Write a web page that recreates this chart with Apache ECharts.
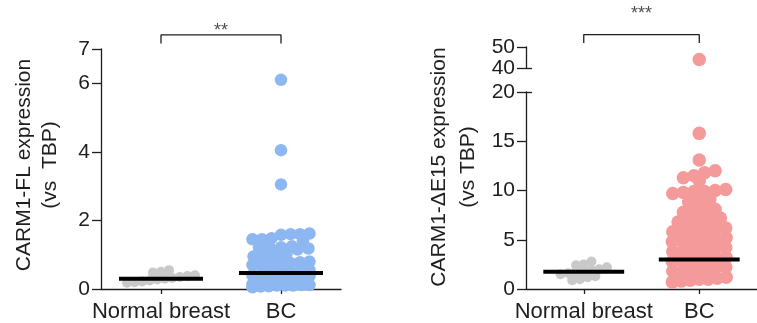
<!DOCTYPE html>
<html><head><meta charset="utf-8">
<script src="https://cdn.jsdelivr.net/npm/echarts@6/dist/echarts.min.js"></script>
<style>html,body{margin:0;padding:0;background:#fff}#c{width:757px;height:323px}</style>
</head><body><div id="c"></div>
<script>
// ---- data ----
const categories = ['Normal breast', 'BC'];
const flNormal = [0.55, 0.5, 0.48, 0.4, 0.38, 0.35, 0.32, 0.3, 0.28, 0.25, 0.22, 0.2, 0.18];
const flBC = [6.1, 4.05, 3.05,
  1.62, 1.6, 1.6, 1.58, 1.48, 1.45, 1.45, 1.42,
  1.25, 1.2, 1.2, 1.18, 1.15, 1.22, 1.0, 0.98, 1.02, 0.95,
  0.8, 0.78, 0.75, 0.72, 0.7, 0.76, 0.74, 0.55, 0.52, 0.5, 0.5, 0.48, 0.47,
  0.4, 0.38, 0.35, 0.33, 0.3, 0.3, 0.28, 0.26, 0.25, 0.3, 0.32, 0.36,
  0.2, 0.18, 0.16, 0.15, 0.14, 0.12, 0.1, 0.1, 0.08, 0.07, 0.05, 0.12, 0.1];
const flMedians = [0.3, 0.47];
const e15Normal = [2.8, 2.5, 2.4, 2.2, 2.0, 1.9, 1.8, 1.7, 1.6, 1.5, 1.3, 1.2, 1.0, 0.9];
const e15BC = [44, 15.8, 13.1, 12.0, 11.8, 11.3, 11.0, 11.5,
  10.0, 9.9, 9.8, 10.1, 9.7, 9.9, 9.0, 8.8, 9.1, 8.0, 7.9, 8.1, 7.8,
  7.0, 7.2, 6.8, 7.1, 6.9, 6.0, 6.1, 5.9, 6.2, 5.8, 6.0,
  5.0, 5.1, 4.9, 5.2, 4.8, 5.0, 5.1, 4.0, 4.1, 3.9, 4.2, 3.8, 4.0,
  3.0, 3.1, 2.9, 3.2, 2.8, 3.0, 3.1, 2.0, 2.1, 1.9, 2.2, 1.8, 2.0,
  1.0, 1.1, 0.9, 1.2, 0.8, 1.0, 0.7];
const e15Medians = [1.75, 3.0];
const flTicks = [0, 2, 4, 6, 7];
const e15LowTicks = [0, 5, 10, 15, 20];
const e15HighTicks = [40, 50];
const sigFL = '**';
const sigE15 = '***';

// ---- layout ----
const FONT = '"Liberation Sans", Arial, sans-serif';
const INK = '#1e1e1e';
const colGray = '#c9c9c9', colBlue = '#8db7f1', colPink = '#f59a9a';
const PX_PER_X = 120; // px per x unit (grid width 240 / range 2)

function swarm(values, center, pxPerUnit, rowPx, colPx, maxSpan) {
  const rows = {};
  values.forEach(v => {
    const r = Math.round(v * pxPerUnit / rowPx);
    (rows[r] = rows[r] || []).push(v);
  });
  const out = [];
  Object.keys(rows).forEach(k => {
    const arr = rows[k].slice().sort((a, b) => a - b);
    const n = arr.length;
    const sp = n > 1 ? Math.min(colPx, maxSpan / (n - 1)) : 0;
    arr.forEach((v, i) => out.push([center + ((i - (n - 1) / 2) * sp) / PX_PER_X, v]));
  });
  return out;
}

const fl_pxu = 240 / 7;
const e15_pxu = 197 / 20;
const e15Hi_pxu = 21 / 10;

const flNormalPts = swarm(flNormal, 1, fl_pxu, 10, 8, 68);
const flBCPts = swarm(flBC, 2, fl_pxu, 9, 11, 57);
const e15NormalPts = swarm(e15Normal, 1, e15_pxu, 9, 8, 68);
const e15BCLow = swarm(e15BC.filter(v => v <= 20), 2, e15_pxu, 9.5, 11, 56);
const e15BCHigh = swarm(e15BC.filter(v => v > 20), 2, e15Hi_pxu, 10, 11, 56);

function medianLine(c, m, xi, yi) {
  return { type: 'line', xAxisIndex: xi, yAxisIndex: yi, data: [[c - 0.35, m], [c + 0.35, m]],
    symbol: 'none', lineStyle: { color: '#000', width: 4 }, z: 5, silent: true, animation: false };
}
function bracket(yTop, yLow, xi, yi) {
  return { type: 'line', xAxisIndex: xi, yAxisIndex: yi, clip: false,
    data: [[1, yLow], [1, yTop], [2, yTop], [2, yLow]], symbol: 'none',
    lineStyle: { color: INK, width: 1.3 }, silent: true, animation: false };
}
function stars(txt, y, xi, yi) {
  return { type: 'scatter', xAxisIndex: xi, yAxisIndex: yi, clip: false, symbolSize: 1,
    itemStyle: { color: 'rgba(0,0,0,0)' }, data: [[1.5, y]], silent: true, animation: false,
    label: { show: true, position: 'inside', formatter: txt, color: INK, fontSize: 18, fontFamily: FONT } };
}
function scat(pts, color, size, xi, yi) {
  return { type: 'scatter', xAxisIndex: xi, yAxisIndex: yi, data: pts, symbolSize: size,
    itemStyle: { color: color, opacity: 1 }, animation: false, silent: true };
}

const axisLine = { show: true, lineStyle: { color: INK, width: 1.3 } };
function xAx(gi, show) {
  return { type: 'value', gridIndex: gi, min: 0.5, max: 2.5, show: show,
    axisLine: axisLine, splitLine: { show: false },
    axisTick: { show: true, customValues: [1, 2], length: 5, lineStyle: { color: INK, width: 1.3 } },
    axisLabel: { customValues: [1, 2], formatter: v => categories[Math.round(v) - 1], fontSize: 22,
      fontFamily: FONT, color: INK, margin: 12 } };
}
function yAx(gi, min, max, ticks) {
  return { type: 'value', gridIndex: gi, min: min, max: max, axisLine: axisLine, splitLine: { show: false },
    axisTick: { show: true, customValues: ticks, length: 9, lineStyle: { color: INK, width: 1.3 } },
    axisLabel: { customValues: ticks, fontSize: 21, fontFamily: FONT, color: INK, margin: 11 } };
}
function yInnerTick(gi, min, max, ticks) {
  return { type: 'value', gridIndex: gi, min: min, max: max, position: 'left',
    axisLine: { show: false }, splitLine: { show: false }, axisLabel: { show: false },
    axisTick: { show: true, inside: true, customValues: ticks, length: 6, lineStyle: { color: INK, width: 1.3 } } };
}

const option = {
  animation: false,
  grid: [
    { left: 101, top: 49, width: 240, height: 240 },
    { left: 526, top: 47, width: 240, height: 21 },
    { left: 526, top: 92, width: 240, height: 197 }
  ],
  xAxis: [xAx(0, true), xAx(1, false), xAx(2, true)],
  yAxis: [
    yAx(0, 0, 7, flTicks),
    yAx(1, 40, 50, e15HighTicks),
    yAx(2, 0, 20, e15LowTicks),
    yInnerTick(1, 40, 50, [40]),
    yInnerTick(2, 0, 20, [20])
  ],
  series: [
    scat(flNormalPts, colGray, 10, 0, 0),
    scat(flBCPts, colBlue, 12.5, 0, 0),
    medianLine(1, flMedians[0], 0, 0),
    medianLine(2, flMedians[1], 0, 0),
    bracket(7.41, 7.16, 0, 0),
    stars(sigFL, 7.52, 0, 0),
    scat(e15NormalPts, colGray, 10, 2, 2),
    scat(e15BCLow, colPink, 13.5, 2, 2),
    scat(e15BCHigh, colPink, 13.5, 1, 1),
    medianLine(1, e15Medians[0], 2, 2),
    medianLine(2, e15Medians[1], 2, 2),
    bracket(55.9, 51.9, 1, 1),
    stars(sigE15, 65.6, 1, 1)
  ],
  graphic: [
    { type: 'text', x: 24, y: 165, rotation: Math.PI / 2, style: { text: 'CARM1-FL expression', font: '21px ' + FONT, fill: INK, textAlign: 'center', textVerticalAlign: 'middle' } },
    { type: 'text', x: 50, y: 165, rotation: Math.PI / 2, style: { text: '(vs  TBP)', font: '21px ' + FONT, fill: INK, textAlign: 'center', textVerticalAlign: 'middle' } },
    { type: 'text', x: 439, y: 167, rotation: Math.PI / 2, style: { text: 'CARM1-ΔE15 expression', font: '21px ' + FONT, fill: INK, textAlign: 'center', textVerticalAlign: 'middle' } },
    { type: 'text', x: 468, y: 167, rotation: Math.PI / 2, style: { text: '(vs TBP)', font: '21px ' + FONT, fill: INK, textAlign: 'center', textVerticalAlign: 'middle' } }
  ]
};
const chart = echarts.init(document.getElementById('c'), null, { renderer: 'canvas' });
chart.setOption(option);
</script></body></html>
